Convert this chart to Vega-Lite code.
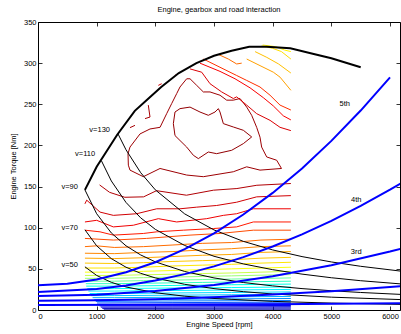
{
"$schema": "https://vega.github.io/schema/vega-lite/v6.json",
"width": 362, "height": 288,
"autosize": "none",
"padding": {"left": 38, "top": 22, "right": 1, "bottom": 24},
"title": {"text": "Engine, gearbox and road interaction", "fontSize": 7.5, "fontWeight": "normal", "font": "Liberation Sans", "offset": 5, "color": "#000"},
"config": {"view": {"stroke": null}, "font": "Liberation Sans",
  "axis": {"labelFont": "Liberation Sans", "titleFont": "Liberation Sans", "labelFontSize": 7.5, "titleFontSize": 7.5, "titleFontWeight": "normal", "labelColor": "#000", "titleColor": "#000", "domainColor": "#000", "tickColor": "#000", "grid": false, "tickSize": -4, "domainWidth": 1, "tickWidth": 0.8}},
"datasets": {
"ctr": [
{"c":"L1","lv":98,"n":2307,"T":226.5},{"c":"L1","lv":98,"n":2335,"T":240.6},{"c":"L1","lv":98,"n":2420,"T":244.7},{"c":"L1","lv":98,"n":2591,"T":246.6},{"c":"L1","lv":98,"n":2761,"T":240.6},{"c":"L1","lv":98,"n":2903,"T":236.6},{"c":"L1","lv":98,"n":3017,"T":240.6},{"c":"L1","lv":98,"n":3074,"T":244.7},{"c":"L1","lv":98,"n":3102,"T":240.6},{"c":"L1","lv":98,"n":3159,"T":226.5},{"c":"L1","lv":98,"n":3329,"T":222.4},{"c":"L1","lv":98,"n":3500,"T":218.4},{"c":"L1","lv":98,"n":3642,"T":210.3},{"c":"L1","lv":98,"n":3500,"T":202.2},{"c":"L1","lv":98,"n":3301,"T":194.1},{"c":"L1","lv":98,"n":3045,"T":190},{"c":"L1","lv":98,"n":2903,"T":192},{"c":"L1","lv":98,"n":2733,"T":184},{"c":"L1","lv":98,"n":2648,"T":188},{"c":"L1","lv":98,"n":2534,"T":198},{"c":"L1","lv":98,"n":2420,"T":206},{"c":"L1","lv":98,"n":2335,"T":212},{"c":"L1","lv":98,"n":2307,"T":226.5},
{"c":"L2","lv":97,"n":1540,"T":176},{"c":"L2","lv":97,"n":1534,"T":190},{"c":"L2","lv":97,"n":1568,"T":198},{"c":"L2","lv":97,"n":1739,"T":214},{"c":"L2","lv":97,"n":1909,"T":220},{"c":"L2","lv":97,"n":2080,"T":222},{"c":"L2","lv":97,"n":2193,"T":238.6},{"c":"L2","lv":97,"n":2278,"T":250.8},{"c":"L2","lv":97,"n":2364,"T":263},{"c":"L2","lv":97,"n":2420,"T":271},{"c":"L2","lv":97,"n":2534,"T":281},{"c":"L2","lv":97,"n":2591,"T":281},{"c":"L2","lv":97,"n":2705,"T":273},{"c":"L2","lv":97,"n":2818,"T":265},{"c":"L2","lv":97,"n":2932,"T":265},{"c":"L2","lv":97,"n":3102,"T":261},{"c":"L2","lv":97,"n":3216,"T":255},{"c":"L2","lv":97,"n":3329,"T":255},{"c":"L2","lv":97,"n":3443,"T":257},{"c":"L2","lv":97,"n":3557,"T":246.6},{"c":"L2","lv":97,"n":3642,"T":236.6},{"c":"L2","lv":97,"n":3727,"T":222},{"c":"L2","lv":97,"n":3784,"T":210},{"c":"L2","lv":97,"n":3812,"T":198},{"c":"L2","lv":97,"n":3898,"T":186},{"c":"L2","lv":97,"n":4068,"T":182},{"c":"L2","lv":97,"n":4150,"T":172},{"c":"L2","lv":97,"n":3784,"T":170},{"c":"L2","lv":97,"n":3557,"T":174},{"c":"L2","lv":97,"n":3329,"T":168},{"c":"L2","lv":97,"n":2818,"T":162},{"c":"L2","lv":97,"n":2534,"T":164},{"c":"L2","lv":97,"n":2080,"T":172},{"c":"L2","lv":97,"n":1795,"T":162},{"c":"L2","lv":97,"n":1568,"T":170},{"c":"L2","lv":97,"n":1540,"T":176},
{"c":"F1","lv":96,"n":1568,"T":221.6},{"c":"F1","lv":96,"n":1653,"T":224.4},
{"c":"F2","lv":96,"n":1880,"T":249},{"c":"F2","lv":96,"n":1909,"T":234.5},{"c":"F2","lv":96,"n":1824,"T":232.6},
{"c":"F3","lv":92,"n":2051,"T":273},{"c":"F3","lv":92,"n":2108,"T":275},
{"c":"F4","lv":90,"n":2335,"T":285},{"c":"F4","lv":90,"n":2392,"T":287.5},
{"c":"R0","lv":81,"n":3074,"T":310.6},{"c":"R0","lv":81,"n":3244,"T":305},{"c":"R0","lv":81,"n":3386,"T":299},{"c":"R0","lv":81,"n":3472,"T":300},
{"c":"R1","lv":86,"n":2818,"T":305},{"c":"R1","lv":86,"n":3102,"T":295},{"c":"R1","lv":86,"n":3386,"T":285},{"c":"R1","lv":86,"n":3557,"T":279},{"c":"R1","lv":86,"n":3784,"T":271},{"c":"R1","lv":86,"n":3955,"T":261},{"c":"R1","lv":86,"n":4125,"T":249},{"c":"R1","lv":86,"n":4310,"T":243},
{"c":"R2","lv":88,"n":2760,"T":300},{"c":"R2","lv":88,"n":3102,"T":290},{"c":"R2","lv":88,"n":3358,"T":281},{"c":"R2","lv":88,"n":3614,"T":270},{"c":"R2","lv":88,"n":3841,"T":258},{"c":"R2","lv":88,"n":4011,"T":248},{"c":"R2","lv":88,"n":4181,"T":236},{"c":"R2","lv":88,"n":4310,"T":231},
{"c":"R3","lv":91,"n":2591,"T":293},{"c":"R3","lv":91,"n":2790,"T":289},{"c":"R3","lv":91,"n":2932,"T":275},{"c":"R3","lv":91,"n":3131,"T":265},{"c":"R3","lv":91,"n":3329,"T":257},{"c":"R3","lv":91,"n":3386,"T":259},{"c":"R3","lv":91,"n":3557,"T":249},{"c":"R3","lv":91,"n":3727,"T":238.6},{"c":"R3","lv":91,"n":3955,"T":230.5},{"c":"R3","lv":91,"n":4125,"T":222},{"c":"R3","lv":91,"n":4310,"T":218},
{"c":"O1","lv":75,"n":3557,"T":305},{"c":"O1","lv":75,"n":3784,"T":297},{"c":"O1","lv":75,"n":4011,"T":289},{"c":"O1","lv":75,"n":4125,"T":283},{"c":"O1","lv":75,"n":4310,"T":267},
{"c":"O2","lv":71,"n":3700,"T":314},{"c":"O2","lv":71,"n":3900,"T":307},{"c":"O2","lv":71,"n":4100,"T":299},{"c":"O2","lv":71,"n":4310,"T":288},
{"c":"Y1","lv":67,"n":3812,"T":321},{"c":"Y1","lv":67,"n":4000,"T":318},{"c":"Y1","lv":67,"n":4150,"T":314},{"c":"Y1","lv":67,"n":4310,"T":305},
{"c":"Y2","lv":64,"n":3830,"T":322},{"c":"Y2","lv":64,"n":4050,"T":320},{"c":"Y2","lv":64,"n":4200,"T":316},{"c":"Y2","lv":64,"n":4310,"T":314},
{"c":"a","lv":95,"n":1050,"T":152},{"c":"a","lv":95,"n":1220,"T":143},{"c":"a","lv":95,"n":1480,"T":137},{"c":"a","lv":95,"n":1800,"T":137.5},{"c":"a","lv":95,"n":2020,"T":145},{"c":"a","lv":95,"n":2530,"T":139.5},{"c":"a","lv":95,"n":2990,"T":145.6},{"c":"a","lv":95,"n":3390,"T":147.6},{"c":"a","lv":95,"n":3730,"T":151.6},{"c":"a","lv":95,"n":4310,"T":153.7},
{"c":"b","lv":92,"n":800,"T":129},{"c":"b","lv":92,"n":830,"T":133.5},{"c":"b","lv":92,"n":1057,"T":119},{"c":"b","lv":92,"n":1284,"T":115},{"c":"b","lv":92,"n":1682,"T":117},{"c":"b","lv":92,"n":2023,"T":123},{"c":"b","lv":92,"n":2420,"T":123},{"c":"b","lv":92,"n":2705,"T":125},{"c":"b","lv":92,"n":3045,"T":127},{"c":"b","lv":92,"n":3386,"T":131},{"c":"b","lv":92,"n":3727,"T":137.5},{"c":"b","lv":92,"n":4310,"T":139},
{"c":"c","lv":89,"n":800,"T":107},{"c":"c","lv":89,"n":1000,"T":109},{"c":"c","lv":89,"n":1284,"T":101},{"c":"c","lv":89,"n":1625,"T":103},{"c":"c","lv":89,"n":2051,"T":111},{"c":"c","lv":89,"n":2364,"T":107},{"c":"c","lv":89,"n":2875,"T":111},{"c":"c","lv":89,"n":3159,"T":115},{"c":"c","lv":89,"n":3386,"T":117},{"c":"c","lv":89,"n":3670,"T":123},{"c":"c","lv":89,"n":4310,"T":123},
{"c":"d","lv":87,"n":800,"T":97},{"c":"d","lv":87,"n":1057,"T":95},{"c":"d","lv":87,"n":1284,"T":91},{"c":"d","lv":87,"n":1795,"T":93},{"c":"d","lv":87,"n":2023,"T":95},{"c":"d","lv":87,"n":2477,"T":97},{"c":"d","lv":87,"n":2988,"T":99},{"c":"d","lv":87,"n":3386,"T":101},{"c":"d","lv":87,"n":3670,"T":107},{"c":"d","lv":87,"n":4310,"T":107},
{"c":"e","lv":84,"n":800,"T":87},{"c":"e","lv":84,"n":1284,"T":85},{"c":"e","lv":84,"n":1852,"T":87},{"c":"e","lv":84,"n":2591,"T":91},{"c":"e","lv":84,"n":3102,"T":93},{"c":"e","lv":84,"n":3670,"T":97},{"c":"e","lv":84,"n":4310,"T":97},
{"c":"f","lv":81,"n":800,"T":77},{"c":"f","lv":81,"n":1000,"T":78},{"c":"f","lv":81,"n":1300,"T":76},{"c":"f","lv":81,"n":1800,"T":77},{"c":"f","lv":81,"n":2300,"T":79},{"c":"f","lv":81,"n":2800,"T":81},{"c":"f","lv":81,"n":3300,"T":82},{"c":"f","lv":81,"n":3800,"T":85},{"c":"f","lv":81,"n":4310,"T":86},
{"c":"g","lv":78,"n":800,"T":69},{"c":"g","lv":78,"n":1300,"T":68.5},{"c":"g","lv":78,"n":1800,"T":70},{"c":"g","lv":78,"n":2300,"T":71},{"c":"g","lv":78,"n":2800,"T":73},{"c":"g","lv":78,"n":3300,"T":74.5},{"c":"g","lv":78,"n":3800,"T":77},{"c":"g","lv":78,"n":4310,"T":78},
{"c":"h","lv":74,"n":800,"T":63},{"c":"h","lv":74,"n":1300,"T":62.5},{"c":"h","lv":74,"n":1800,"T":63.5},{"c":"h","lv":74,"n":2300,"T":65},{"c":"h","lv":74,"n":2800,"T":66.5},{"c":"h","lv":74,"n":3300,"T":67.5},{"c":"h","lv":74,"n":3800,"T":70},{"c":"h","lv":74,"n":4310,"T":71},
{"c":"i","lv":70,"n":800,"T":57},{"c":"i","lv":70,"n":1300,"T":56.5},{"c":"i","lv":70,"n":1800,"T":57.5},{"c":"i","lv":70,"n":2300,"T":59},{"c":"i","lv":70,"n":2800,"T":60},{"c":"i","lv":70,"n":3300,"T":61},{"c":"i","lv":70,"n":3800,"T":63},{"c":"i","lv":70,"n":4310,"T":64},
{"c":"j","lv":66,"n":800,"T":51},{"c":"j","lv":66,"n":1300,"T":51},{"c":"j","lv":66,"n":1800,"T":52},{"c":"j","lv":66,"n":2300,"T":53.5},{"c":"j","lv":66,"n":2800,"T":54.5},{"c":"j","lv":66,"n":3300,"T":55.5},{"c":"j","lv":66,"n":3800,"T":57},{"c":"j","lv":66,"n":4310,"T":58},
{"c":"k","lv":62,"n":800,"T":46},{"c":"k","lv":62,"n":1300,"T":46},{"c":"k","lv":62,"n":1800,"T":47},{"c":"k","lv":62,"n":2300,"T":48},{"c":"k","lv":62,"n":2800,"T":49},{"c":"k","lv":62,"n":3300,"T":50},{"c":"k","lv":62,"n":3800,"T":51},{"c":"k","lv":62,"n":4310,"T":52},
{"c":"l","lv":58,"n":800,"T":42},{"c":"l","lv":58,"n":1300,"T":42},{"c":"l","lv":58,"n":1800,"T":42.8},{"c":"l","lv":58,"n":2300,"T":43.5},{"c":"l","lv":58,"n":2800,"T":44.3},{"c":"l","lv":58,"n":3300,"T":45},{"c":"l","lv":58,"n":3800,"T":46},{"c":"l","lv":58,"n":4310,"T":47},
{"c":"m","lv":54,"n":800,"T":38.5},{"c":"m","lv":54,"n":1300,"T":38.5},{"c":"m","lv":54,"n":1800,"T":39.3},{"c":"m","lv":54,"n":2300,"T":40},{"c":"m","lv":54,"n":2800,"T":40.8},{"c":"m","lv":54,"n":3300,"T":41.5},{"c":"m","lv":54,"n":3800,"T":42.3},{"c":"m","lv":54,"n":4310,"T":43},
{"c":"n","lv":50,"n":808,"T":35},{"c":"n","lv":50,"n":1300,"T":35},{"c":"n","lv":50,"n":1800,"T":35.7},{"c":"n","lv":50,"n":2300,"T":36.3},{"c":"n","lv":50,"n":2800,"T":37},{"c":"n","lv":50,"n":3300,"T":37.6},{"c":"n","lv":50,"n":3800,"T":38.3},{"c":"n","lv":50,"n":4310,"T":39},
{"c":"o","lv":46,"n":815,"T":32},{"c":"o","lv":46,"n":1300,"T":32},{"c":"o","lv":46,"n":1800,"T":32.5},{"c":"o","lv":46,"n":2300,"T":33},{"c":"o","lv":46,"n":2800,"T":33.5},{"c":"o","lv":46,"n":3300,"T":34},{"c":"o","lv":46,"n":3800,"T":34.5},{"c":"o","lv":46,"n":4310,"T":35},
{"c":"p","lv":42,"n":822,"T":29},{"c":"p","lv":42,"n":1300,"T":29},{"c":"p","lv":42,"n":2300,"T":29.8},{"c":"p","lv":42,"n":3300,"T":30.7},{"c":"p","lv":42,"n":4310,"T":31.5},
{"c":"q","lv":38,"n":840,"T":26},{"c":"q","lv":38,"n":1300,"T":26},{"c":"q","lv":38,"n":2300,"T":26.7},{"c":"q","lv":38,"n":3300,"T":27.3},{"c":"q","lv":38,"n":4310,"T":28},
{"c":"r","lv":35,"n":858,"T":23},{"c":"r","lv":35,"n":1300,"T":23},{"c":"r","lv":35,"n":2300,"T":23.7},{"c":"r","lv":35,"n":3300,"T":24.3},{"c":"r","lv":35,"n":4310,"T":25},
{"c":"s","lv":32,"n":880,"T":20},{"c":"s","lv":32,"n":1300,"T":20},{"c":"s","lv":32,"n":2300,"T":20.7},{"c":"s","lv":32,"n":3300,"T":21.3},{"c":"s","lv":32,"n":4310,"T":22},
{"c":"t","lv":29,"n":905,"T":17.5},{"c":"t","lv":29,"n":1300,"T":17.5},{"c":"t","lv":29,"n":2300,"T":18},{"c":"t","lv":29,"n":3300,"T":18.5},{"c":"t","lv":29,"n":4310,"T":19},
{"c":"u","lv":26,"n":930,"T":15},{"c":"u","lv":26,"n":1300,"T":15},{"c":"u","lv":26,"n":2300,"T":15.5},{"c":"u","lv":26,"n":3300,"T":16},{"c":"u","lv":26,"n":4310,"T":16.5},
{"c":"v","lv":22,"n":960,"T":12.5},{"c":"v","lv":22,"n":1300,"T":12.5},{"c":"v","lv":22,"n":2300,"T":13},{"c":"v","lv":22,"n":3300,"T":13.5},{"c":"v","lv":22,"n":4310,"T":14},
{"c":"w","lv":19,"n":985,"T":10.5},{"c":"w","lv":19,"n":2300,"T":11},{"c":"w","lv":19,"n":4310,"T":11.5},
{"c":"x","lv":16,"n":1005,"T":8.5},{"c":"x","lv":16,"n":2300,"T":9},{"c":"x","lv":16,"n":4310,"T":9.5},
{"c":"y","lv":13,"n":1030,"T":6.5},{"c":"y","lv":13,"n":2300,"T":7},{"c":"y","lv":13,"n":4310,"T":7.5},
{"c":"z","lv":11,"n":1050,"T":5},{"c":"z","lv":11,"n":2300,"T":5.2},{"c":"z","lv":11,"n":4310,"T":5.5},
{"c":"aa","lv":9,"n":1070,"T":3.5},{"c":"aa","lv":9,"n":2300,"T":3.7},{"c":"aa","lv":9,"n":4310,"T":4},
{"c":"ab","lv":6,"n":1095,"T":2},{"c":"ab","lv":6,"n":2300,"T":2.2},{"c":"ab","lv":6,"n":4310,"T":2.5},
{"c":"ac","lv":3,"n":1120,"T":1},{"c":"ac","lv":3,"n":4310,"T":1}
],
"maxT": [{"n":800,"T":146},{"n":1000,"T":174},{"n":1350,"T":213},{"n":1650,"T":242},{"n":1850,"T":255},{"n":2100,"T":271},{"n":2400,"T":288},{"n":2700,"T":300},{"n":3000,"T":309},{"n":3300,"T":315},{"n":3600,"T":320},{"n":3900,"T":320},{"n":4300,"T":318},{"n":4700,"T":311},{"n":5000,"T":306},{"n":5500,"T":295}],
"hyp": [
{"g":"130","n":1364,"T":214},{"g":"130","n":1500,"T":194.7},{"g":"130","n":1750,"T":166.9},{"g":"130","n":2000,"T":146},{"g":"130","n":2500,"T":116.8},{"g":"130","n":3000,"T":97.3},{"g":"130","n":3500,"T":83.4},{"g":"130","n":4000,"T":73},{"g":"130","n":4500,"T":64.9},{"g":"130","n":5000,"T":58.4},{"g":"130","n":5500,"T":53.1},{"g":"130","n":6200,"T":47.1},
{"g":"110","n":1080,"T":181.5},{"g":"110","n":1250,"T":156.8},{"g":"110","n":1500,"T":130.7},{"g":"110","n":1750,"T":112},{"g":"110","n":2000,"T":98},{"g":"110","n":2500,"T":78.4},{"g":"110","n":3000,"T":65.3},{"g":"110","n":3500,"T":56},{"g":"110","n":4000,"T":49},{"g":"110","n":4500,"T":43.6},{"g":"110","n":5000,"T":39.2},{"g":"110","n":5500,"T":35.6},{"g":"110","n":6200,"T":31.6},
{"g":"90","n":800,"T":146},{"g":"90","n":1000,"T":117},{"g":"90","n":1250,"T":93.6},{"g":"90","n":1500,"T":78},{"g":"90","n":1750,"T":66.9},{"g":"90","n":2000,"T":58.5},{"g":"90","n":2500,"T":46.8},{"g":"90","n":3000,"T":39},{"g":"90","n":3500,"T":33.4},{"g":"90","n":4000,"T":29.3},{"g":"90","n":4500,"T":26},{"g":"90","n":5000,"T":23.4},{"g":"90","n":5500,"T":21.3},{"g":"90","n":6200,"T":18.9},
{"g":"70","n":800,"T":97.5},{"g":"70","n":1000,"T":78},{"g":"70","n":1250,"T":62.4},{"g":"70","n":1500,"T":52},{"g":"70","n":1750,"T":44.6},{"g":"70","n":2000,"T":39},{"g":"70","n":2500,"T":31.2},{"g":"70","n":3000,"T":26},{"g":"70","n":3500,"T":22.3},{"g":"70","n":4000,"T":19.5},{"g":"70","n":5000,"T":15.6},{"g":"70","n":6200,"T":12.6},
{"g":"50","n":800,"T":52.5},{"g":"50","n":1000,"T":42},{"g":"50","n":1250,"T":33.6},{"g":"50","n":1500,"T":28},{"g":"50","n":2000,"T":21},{"g":"50","n":2500,"T":16.8},{"g":"50","n":3000,"T":14},{"g":"50","n":4000,"T":10.5},{"g":"50","n":5000,"T":8.4},{"g":"50","n":6200,"T":6.8}
],
"gear": [
{"g":"5","n":0,"T":30},{"g":"5","n":500,"T":31.8},{"g":"5","n":1000,"T":37},{"g":"5","n":1500,"T":45.8},{"g":"5","n":2000,"T":58},{"g":"5","n":2500,"T":73.9},{"g":"5","n":3000,"T":93.2},{"g":"5","n":3500,"T":116},{"g":"5","n":4000,"T":142.3},{"g":"5","n":4500,"T":172},{"g":"5","n":5000,"T":205.5},{"g":"5","n":5500,"T":242.4},{"g":"5","n":6000,"T":282.7},
{"g":"4","n":0,"T":22},{"g":"4","n":1000,"T":25.5},{"g":"4","n":1500,"T":29.8},{"g":"4","n":2000,"T":35.8},{"g":"4","n":2500,"T":43.6},{"g":"4","n":3000,"T":53},{"g":"4","n":3500,"T":64.3},{"g":"4","n":4000,"T":77.2},{"g":"4","n":4500,"T":91.9},{"g":"4","n":5000,"T":108.3},{"g":"4","n":5500,"T":126.4},{"g":"4","n":6000,"T":146.2},{"g":"4","n":6200,"T":154.6},
{"g":"3","n":0,"T":17},{"g":"3","n":1000,"T":18.5},{"g":"3","n":2000,"T":23},{"g":"3","n":3000,"T":30.5},{"g":"3","n":4000,"T":41},{"g":"3","n":5000,"T":54.5},{"g":"3","n":6000,"T":71},{"g":"3","n":6200,"T":74.7},
{"g":"2","n":0,"T":11.3},{"g":"2","n":1000,"T":11.8},{"g":"2","n":2000,"T":13.1},{"g":"2","n":3000,"T":15.4},{"g":"2","n":4000,"T":18.7},{"g":"2","n":5000,"T":22.8},{"g":"2","n":6000,"T":27.9},{"g":"2","n":6200,"T":29},
{"g":"1","n":0,"T":6},{"g":"1","n":2000,"T":6.3},{"g":"1","n":4000,"T":7},{"g":"1","n":6200,"T":8.3}
],
"lab": [{"t":"v=130","n":1051,"T":219},{"t":"v=110","n":804,"T":189},{"t":"v=90","n":540,"T":149},{"t":"v=70","n":540,"T":99.5},{"t":"v=50","n":540,"T":54.2},{"t":"5th","n":5227,"T":250},{"t":"4th","n":5424,"T":134},{"t":"3rd","n":5424,"T":71}]
},
"resolve": {"axis": {"x": "independent", "y": "independent"}},
"layer": [
{"data": {"name": "ctr"}, "mark": {"type": "line", "strokeWidth": 1, "clip": true},
 "encoding": {
  "x": {"field": "n", "type": "quantitative", "scale": {"domain": [0, 6170], "nice": false, "zero": false}, "axis": {"orient": "bottom", "values": [0,1000,2000,3000,4000,5000,6000], "format": "d", "title": "Engine Speed [rpm]", "labelPadding": 6, "titlePadding": 1}},
  "y": {"field": "T", "type": "quantitative", "scale": {"domain": [0, 350], "nice": false}, "axis": {"orient": "left", "values": [0,50,100,150,200,250,300,350], "title": "Engine Torque [Nm]", "labelPadding": 6, "titlePadding": 6}},
  "color": {"field": "lv", "type": "quantitative", "scale": {"domain": [0, 12.5, 37.5, 62.5, 87.5, 100], "range": ["#00008f", "#0000ff", "#00ffff", "#ffff00", "#ff0000", "#800000"]}, "legend": null},
  "detail": {"field": "c", "type": "nominal"},
  "order": {"value": null}}},
{"data": {"name": "maxT"}, "mark": {"type": "line", "color": "#000", "strokeWidth": 2, "clip": true},
 "encoding": {
  "x": {"field": "n", "type": "quantitative", "axis": {"orient": "top", "values": [0,1000,2000,3000,4000,5000,6000], "labels": false, "title": null}},
  "y": {"field": "T", "type": "quantitative", "axis": {"orient": "right", "values": [0,50,100,150,200,250,300,350], "labels": false, "title": null}}}},
{"data": {"name": "hyp"}, "mark": {"type": "line", "color": "#000", "strokeWidth": 1, "clip": true},
 "encoding": {
  "x": {"field": "n", "type": "quantitative", "axis": null},
  "y": {"field": "T", "type": "quantitative", "axis": null},
  "detail": {"field": "g", "type": "nominal"}}},
{"data": {"name": "gear"}, "mark": {"type": "line", "color": "#0000ff", "strokeWidth": 2, "clip": true},
 "encoding": {
  "x": {"field": "n", "type": "quantitative", "axis": null},
  "y": {"field": "T", "type": "quantitative", "axis": null},
  "detail": {"field": "g", "type": "nominal"}}},
{"data": {"name": "lab"}, "mark": {"type": "text", "fontSize": 7.5, "font": "Liberation Sans", "color": "#000", "align": "center", "baseline": "middle"},
 "encoding": {
  "x": {"field": "n", "type": "quantitative", "axis": null},
  "y": {"field": "T", "type": "quantitative", "axis": null},
  "text": {"field": "t"}}}
]
}
